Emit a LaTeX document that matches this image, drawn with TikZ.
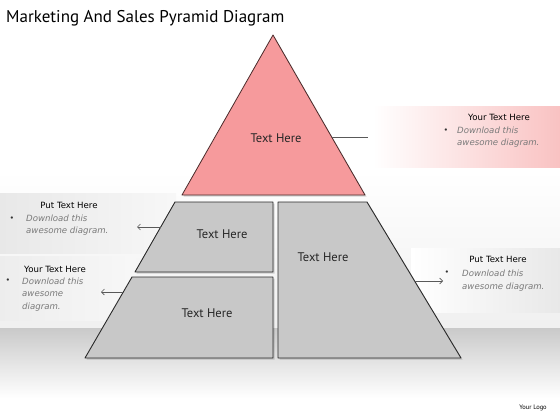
\documentclass[tikz,border=0pt]{standalone}
\usepackage{fontspec}
\setmainfont{PT Sans}
\newfontfamily\panelfont{DejaVu Sans}
\usetikzlibrary{arrows.meta}
\definecolor{pinkfill}{HTML}{F69A9C}
\definecolor{pinkline}{HTML}{4A2A2A}
\definecolor{pinkpanel}{HTML}{F9C2C2}
\definecolor{blockfill}{HTML}{C8C8C8}
\definecolor{blockline}{HTML}{2A2A2A}
\definecolor{bodygray}{HTML}{7A7A7A}
\tikzset{
  tri/.style={fill=pinkfill, draw=pinkline, line width=0.8pt, line join=round},
  block/.style={fill=blockfill, draw=blockline, line width=0.9pt, line join=round},
  shadowfill/.style={fill=black, opacity=0.15},
  label/.style={font=\fontsize{12.5}{14}\selectfont, text=black!85, inner sep=0pt},
  ptitle/.style={font=\panelfont\fontsize{8.6}{10}\selectfont, text=black, inner sep=0pt},
  pbody/.style={font=\panelfont\fontsize{8.6}{10}\selectfont\itshape, text=bodygray, inner sep=0pt, anchor=west},
  pbullet/.style={font=\fontsize{8}{9}\selectfont, text=black!80, inner sep=0pt},
  arr/.style={draw=black!65, line width=0.6pt, -{Straight Barb[length=3pt,width=6pt]}},
  link/.style={draw=black!65, line width=0.7pt}
}
\begin{document}
\begin{tikzpicture}[x=1pt,y=-1pt]
\useasboundingbox (0,0) rectangle (560,420);
% background
\fill[white] (0,0) rectangle (560,420);
\shade[top color=white, bottom color=black!6] (0,170) rectangle (560,328);
\shade[top color=black!21, bottom color=white] (0,328) rectangle (560,398);
% side panels
\shade[left color=black!9, right color=black!3] (0,193) rectangle (176,253);
\shade[left color=black!7, right color=black!3] (0,256) rectangle (136,320);
\shade[left color=white, right color=black!9] (411,248) rectangle (560,312);
\shade[left color=white, right color=pinkpanel] (373,107) rectangle (560,167);
% title
\node[anchor=west, inner sep=0pt, font=\fontsize{17}{20}\selectfont] (title) at (6,18) {Marketing And Sales Pyramid Diagram};
% shadows
\fill[shadowfill] (274.5,36.5) -- (183.5,196.5) -- (366.5,196.5) -- cycle;
\fill[shadowfill] (176.5,203.5) -- (274.5,203.5) -- (274.5,273.5) -- (136.5,273.5) -- cycle;
\fill[shadowfill] (133.5,278.5) -- (274.5,278.5) -- (274.5,359.5) -- (86.5,359.5) -- cycle;
\fill[shadowfill] (279.5,203.5) -- (368.5,203.5) -- (462.5,359.5) -- (279.5,359.5) -- cycle;
% pyramid pieces
\draw[tri] (273,35) -- (182,195) -- (365,195) -- cycle;
\draw[block] (175,202) -- (273,202) -- (273,272) -- (135,272) -- cycle;
\draw[block] (132,277) -- (273,277) -- (273,358) -- (85,358) -- cycle;
\draw[block] (278,202) -- (367,202) -- (461,358) -- (278,358) -- cycle;
% labels
\node[label] (ltri) at (276,138) {Text Here};
\node[label] (llt) at (222,234) {Text Here};
\node[label] (lr) at (323,257) {Text Here};
\node[label] (llb) at (207,313) {Text Here};
% connector anchor points
\coordinate (triedge) at (331.6,137);
\coordinate (triend) at (368,137);
\coordinate (ltedge) at (160.7,227);
\coordinate (ltend) at (137,227);
\coordinate (lbedge) at (123.5,292);
\coordinate (lbend) at (101,292);
\coordinate (redge) at (414.4,281);
\coordinate (rend) at (443,281);
\draw[link] (triedge) -- (triend);
\draw[arr] (ltedge) -- (ltend);
\draw[arr] (lbedge) -- (lbend);
\draw[arr] (redge) -- (rend);
% right top panel
\node[ptitle] (p1t) at (499,117) {Your Text Here};
\node[pbullet] (p1b) at (446,131) {\textbullet};
\node[pbody] (p1a) at (457,130) {Download this};
\node[pbody] (p1c) at (457,143) {awesome diagram.};
% left top panel
\node[ptitle] (p2t) at (69,205) {Put Text Here};
\node[pbullet] (p2b) at (12,219) {\textbullet};
\node[pbody] (p2a) at (26,218) {Download this};
\node[pbody] (p2c) at (26,231) {awesome diagram.};
% left bottom panel
\node[ptitle] (p3t) at (55,269) {Your Text Here};
\node[pbullet] (p3b) at (8,281) {\textbullet};
\node[pbody] (p3a) at (22,281) {Download this};
\node[pbody] (p3c) at (22,294) {awesome};
\node[pbody] (p3d) at (22,307) {diagram.};
% right bottom panel
\node[ptitle] (p4t) at (498,259) {Put Text Here};
\node[pbullet] (p4b) at (447,273) {\textbullet};
\node[pbody] (p4a) at (462,273) {Download this};
\node[pbody] (p4c) at (462,287) {awesome diagram.};
% logo
\node[inner sep=0pt, font=\fontsize{6.5}{8}\selectfont] (logo) at (533,408) {Your Logo};
\end{tikzpicture}
\end{document}
